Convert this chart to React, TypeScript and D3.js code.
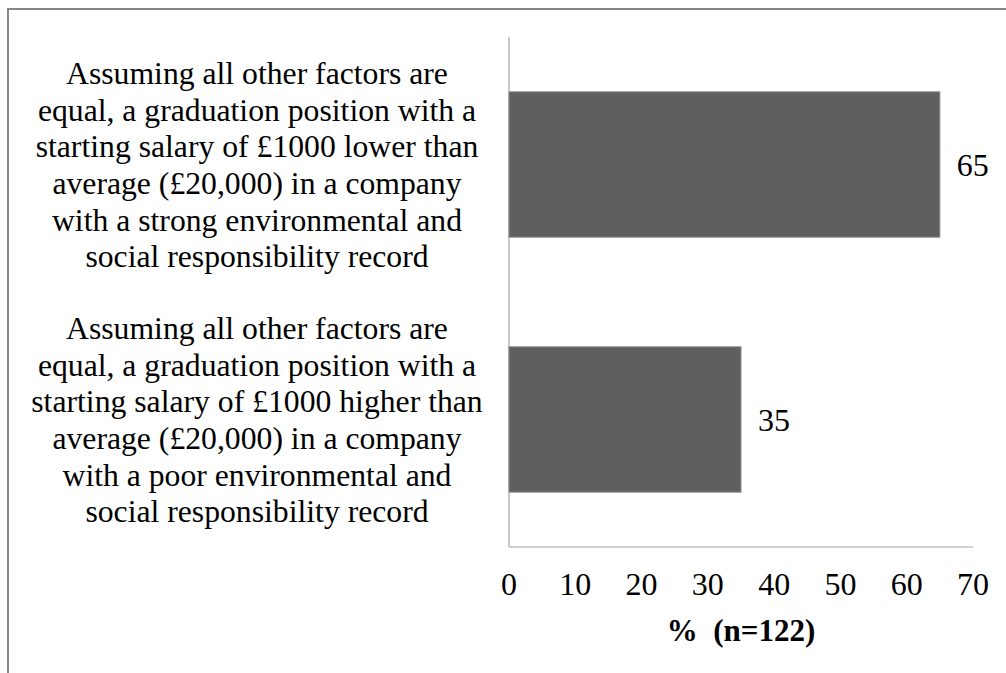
import { useEffect, useRef } from 'react';
import * as d3 from 'd3';

const categories = ['lower', 'higher'];
const categoryLines = [
  [
    'Assuming all other factors are',
    'equal, a graduation position with a',
    'starting salary of £1000 lower than',
    'average (£20,000) in a company',
    'with a strong environmental and',
    'social responsibility record',
  ],
  [
    'Assuming all other factors are',
    'equal, a graduation position with a',
    'starting salary of £1000 higher than',
    'average (£20,000) in a company',
    'with a poor environmental and',
    'social responsibility record',
  ],
];
const values = [65, 35];
const xTicks = [0, 10, 20, 30, 40, 50, 60, 70];
const xTitle = '%  (n=122)';

export default function App() {
  const svgRef = useRef<SVGSVGElement>(null);

  useEffect(() => {
    if (!svgRef.current) return;
    const width = 1006;
    const height = 673;
    const font = '"Liberation Serif", "Times New Roman", serif';

    const svg = d3.select(svgRef.current)
      .attr('width', width)
      .attr('height', height)
      .style('font-family', font);
    svg.selectAll('*').remove();

    // outer frame (only top and left edges are visible)
    svg.append('line')
      .attr('x1', 8).attr('x2', width).attr('y1', 9).attr('y2', 9)
      .style('stroke', '#878787').style('stroke-width', 2);
    svg.append('line')
      .attr('x1', 8).attr('x2', 8).attr('y1', 8).attr('y2', height)
      .style('stroke', '#878787').style('stroke-width', 2);

    const x = d3.scaleLinear().domain([0, 70]).range([509, 973]);
    const y = d3.scaleBand()
      .domain(categories)
      .range([37, 547])
      .paddingInner(0.43)
      .paddingOuter(0.215);

    // axes lines
    svg.append('line')
      .attr('x1', x(0)).attr('x2', x(0)).attr('y1', 37).attr('y2', 547)
      .style('stroke', '#a6a6a6').style('stroke-width', 1.2);
    svg.append('line')
      .attr('x1', x(0)).attr('x2', x(70)).attr('y1', 547).attr('y2', 547)
      .style('stroke', '#a6a6a6').style('stroke-width', 1.2);

    // tick labels
    svg.append('g')
      .selectAll('text')
      .data(xTicks)
      .join('text')
      .attr('x', d => x(d))
      .attr('y', 584)
      .attr('dy', '0.35em')
      .attr('text-anchor', 'middle')
      .style('font-size', '32px')
      .style('fill', '#000')
      .text(d => d);

    svg.append('text')
      .attr('x', (x(0) + x(70)) / 2)
      .attr('y', 630)
      .attr('dy', '0.35em')
      .attr('text-anchor', 'middle')
      .style('font-size', '31px')
      .style('font-weight', 'bold')
      .style('white-space', 'pre')
      .attr('xml:space', 'preserve')
      .text(xTitle);

    // bars
    svg.append('g')
      .selectAll('rect')
      .data(values)
      .join('rect')
      .attr('x', x(0))
      .attr('y', (_, i) => y(categories[i])!)
      .attr('width', d => x(d) - x(0))
      .attr('height', y.bandwidth())
      .style('fill', '#5f5f5f')
      .style('stroke', '#8a8a8a')
      .style('stroke-width', 1);

    // value labels
    svg.append('g')
      .selectAll('text')
      .data(values)
      .join('text')
      .attr('x', d => x(d) + 17)
      .attr('y', (_, i) => y(categories[i])! + y.bandwidth() / 2)
      .attr('dy', '0.35em')
      .style('font-size', '32px')
      .style('fill', '#000')
      .text(d => d);

    // category labels (wrapped, centred)
    const lineH = 36.7;
    const labels = svg.append('g')
      .selectAll('text')
      .data(categoryLines)
      .join('text')
      .attr('text-anchor', 'middle')
      .style('font-size', '31.7px')
      .style('fill', '#000');
    labels.each(function (lines, i) {
      const cy = y(categories[i])! + y.bandwidth() / 2;
      const top = cy - ((lines.length - 1) * lineH) / 2;
      d3.select(this)
        .selectAll('tspan')
        .data(lines)
        .join('tspan')
        .attr('x', 257)
        .attr('y', (_, j) => top + j * lineH)
        .attr('dy', '0.35em')
        .text(d => d);
    });
  }, []);

  return (
    <div style={{ position: 'absolute', left: 0, top: 0 }}>
      <svg ref={svgRef}></svg>
    </div>
  );
}
